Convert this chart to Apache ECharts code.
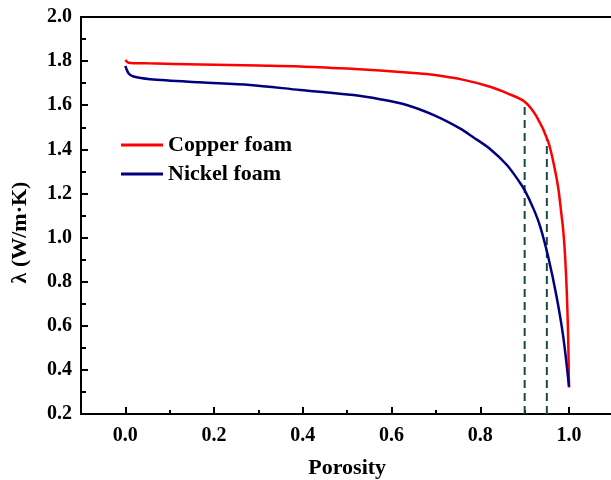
<!DOCTYPE html>
<html><head><meta charset="utf-8">
<script src="https://cdn.jsdelivr.net/npm/echarts@6/dist/echarts.min.js"></script>
<style>html,body{margin:0;padding:0;background:#fff}#c{width:611px;height:480px}</style>
</head><body><div id="c"></div>
<script>
var copperX = [0.0, 0.007, 0.05, 0.17, 0.3, 0.394, 0.5, 0.574, 0.65, 0.694, 0.76, 0.822, 0.86, 0.9, 0.927, 0.953, 0.968, 0.976, 0.982, 0.987, 0.991, 0.995, 0.998, 1.0];
var copperY = [1.805, 1.793, 1.790, 1.785, 1.780, 1.776, 1.766, 1.757, 1.746, 1.738, 1.716, 1.684, 1.655, 1.616, 1.548, 1.435, 1.31, 1.22, 1.12, 1.03, 0.92, 0.75, 0.55, 0.32];
var nickelX = [0.0, 0.007, 0.018, 0.056, 0.168, 0.281, 0.394, 0.514, 0.574, 0.634, 0.694, 0.754, 0.784, 0.82, 0.86, 0.889, 0.9, 0.92, 0.935, 0.953, 0.972, 0.987, 1.0];
var nickelY = [1.778, 1.745, 1.73, 1.718, 1.704, 1.692, 1.669, 1.646, 1.627, 1.601, 1.556, 1.495, 1.455, 1.405, 1.329, 1.25, 1.215, 1.13, 1.05, 0.913, 0.732, 0.55, 0.324];
var guideX = [0.9, 0.95];
var guideTop = [1.616, 1.445];
var xTicks = [0.0, 0.2, 0.4, 0.6, 0.8, 1.0];
var xMinorTicks = [0.1, 0.3, 0.5, 0.7, 0.9];

function pairs(xs, ys){ return xs.map(function(x,i){ return [x, ys[i]]; }); }
var font = 'Liberation Serif';
var series = [
  {name:'Copper foam', type:'line', data:pairs(copperX, copperY), smooth:0.3, showSymbol:false, lineStyle:{color:'#ff0000', width:2.5}, itemStyle:{color:'#ff0000'}, z:5},
  {name:'Nickel foam', type:'line', data:pairs(nickelX, nickelY), smooth:0.3, showSymbol:false, lineStyle:{color:'#000080', width:2.5}, itemStyle:{color:'#000080'}, z:5}
];
guideX.forEach(function(gx, i){
  series.push({type:'line', data:[[gx, 0.2],[gx, guideTop[i]]], showSymbol:false, lineStyle:{color:'#1a4a44', width:2, type:[8,5]}, z:3});
});
var chart = echarts.init(document.getElementById('c'));
chart.setOption({
  animation:false,
  grid:{left:81, top:17, bottom:66, right:-2.4, show:true, borderColor:'#000', borderWidth:2, containLabel:false, outerBoundsMode:'none'},
  legend:{data:['Copper foam','Nickel foam'], orient:'vertical', left:121, top:134, padding:0, icon:'rect', itemWidth:42, itemHeight:3, itemGap:7,
    textStyle:{fontFamily:font, fontWeight:'bold', fontSize:22, color:'#000'}},
  xAxis:[{type:'value', min:-0.1, max:1.1, position:'bottom',
    name:'Porosity', nameLocation:'middle', nameGap:43, nameTextStyle:{fontFamily:font, fontWeight:'bold', fontSize:22, color:'#000'},
    axisLine:{onZero:false, lineStyle:{color:'#000', width:2}},
    axisTick:{inside:true, length:7, customValues:xTicks, lineStyle:{color:'#000', width:2}},
    axisLabel:{customValues:xTicks, margin:12, fontFamily:font, fontWeight:'bold', fontSize:20, color:'#000', formatter:function(v){return v.toFixed(1);}},
    splitLine:{show:false}},
   {type:'value', min:-0.1, max:1.1, position:'bottom',
    axisLine:{show:false, onZero:false},
    axisTick:{inside:true, length:4, customValues:xMinorTicks, lineStyle:{color:'#000', width:2}},
    axisLabel:{show:false}, splitLine:{show:false}}],
  yAxis:{type:'value', min:0.2, max:2.0, interval:0.2,
    name:'λ (W/m·K)', nameLocation:'middle', nameGap:50, nameTextStyle:{fontFamily:font, fontWeight:'bold', fontSize:22, color:'#000', padding:[0,34,0,0]},
    axisLine:{onZero:false, lineStyle:{color:'#000', width:2}},
    axisTick:{inside:true, length:7, lineStyle:{color:'#000', width:2}},
    minorTick:{show:true, splitNumber:2, length:5, lineStyle:{color:'#000', width:2}},
    axisLabel:{margin:9, fontFamily:font, fontWeight:'bold', fontSize:20, color:'#000', formatter:function(v){return v.toFixed(1);}},
    splitLine:{show:false}, minorSplitLine:{show:false}},
  series:series
});
</script></body></html>
